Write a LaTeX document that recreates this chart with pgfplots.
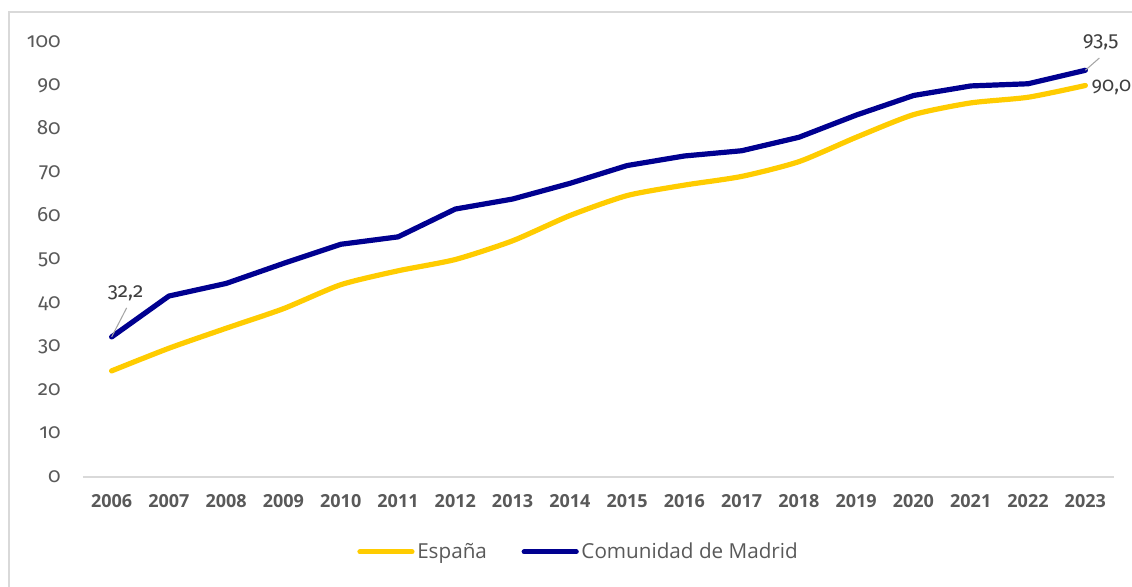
\documentclass[border=0pt]{standalone}
\usepackage{pgfplots}
\pgfplotsset{compat=1.18}
\usepackage{fontspec}
\setmainfont{Open Sans}
\newfontfamily\numfont[Numbers=OldStyle]{Fira Sans}
\definecolor{esp}{HTML}{FFCC00}
\definecolor{mad}{HTML}{000090}
\definecolor{txt}{HTML}{595959}
\definecolor{lbl}{HTML}{404040}
\begin{document}
\begin{tikzpicture}
\useasboundingbox (-62.25pt,-81.75pt) rectangle (786.75pt,357.75pt);
\draw[draw=black!15, line width=1.1pt] (800pt,348.75pt) -- (-55.5pt,348.75pt) -- (-55.5pt,-100pt);
\begin{axis}[
  scale only axis, width=773.25pt, height=326.25pt,
  xmin=2005.5, xmax=2023.5, ymin=0, ymax=100,
  axis line style={draw=none},
  tick style={draw=none},
  xtick={2006,...,2023},
  ytick={0,10,...,100},
  /pgf/number format/1000 sep={},
  /pgf/number format/assume math mode=true,
  xticklabel style={font=\fontsize{13.5}{16}\selectfont\bfseries, text=txt, anchor=north, inner sep=0pt, yshift=-13pt},
  yticklabel style={font=\numfont\fontsize{15.5}{18}\selectfont, text=txt, anchor=base east, inner sep=0pt, xshift=-16.5pt, yshift=-4pt},
  legend style={at={(0.481,-0.172)}, anchor=center, draw=none, fill=none, legend columns=2, font=\fontsize{15.5}{18}\selectfont, text=txt, /tikz/every even column/.append style={column sep=24pt}},
  legend image code/.code={\draw[#1] (0pt,0pt) -- (39pt,0pt);},
  clip=false,
]
\draw[black!15, line width=1.1pt] (axis cs:2005.5,0) -- (axis cs:2023.5,0);
\addplot[esp, line width=3.9pt, line cap=round, smooth, tension=0.4] coordinates {
(2006,24.4) (2007,29.6) (2008,34.2) (2009,38.7) (2010,44.2) (2011,47.4) (2012,50.0) (2013,54.3) (2014,60.1)
(2015,64.7) (2016,67.1) (2017,69.1) (2018,72.5) (2019,78.1) (2020,83.3) (2021,86.0) (2022,87.3) (2023,90.0)};
\addlegendentry{España}
\addplot[mad, line width=3.9pt, line cap=round, line join=round] coordinates {
(2006,32.2) (2007,41.6) (2008,44.5) (2009,49.1) (2010,53.5) (2011,55.2) (2012,61.6) (2013,63.9) (2014,67.5)
(2015,71.6) (2016,73.8) (2017,75.0) (2018,78.1) (2019,83.2) (2020,87.7) (2021,89.9) (2022,90.4) (2023,93.5)};
\addlegendentry{Comunidad de Madrid}
\draw[gray!70, line width=0.8pt] (axis cs:2006,32.2) -- ++(11.25pt,21.75pt);
\node[anchor=base, inner sep=0pt, font=\numfont\fontsize{15.5}{18}\selectfont, text=lbl] at ([xshift=10.5pt, yshift=29.5pt]axis cs:2006,32.2) {32,2};
\draw[gray!70, line width=0.8pt] (axis cs:2023,93.5) -- ++(10.5pt,9.2pt);
\node[anchor=base, inner sep=0pt, font=\numfont\fontsize{15.5}{18}\selectfont, text=lbl] at ([xshift=11.5pt, yshift=17.8pt]axis cs:2023,93.5) {93,5};
\node[anchor=base west, inner sep=0pt, font=\numfont\fontsize{15}{18}\selectfont, text=lbl] at ([xshift=4.5pt, yshift=-4.2pt]axis cs:2023,90.0) {90,0};
\end{axis}
\end{tikzpicture}
\end{document}
